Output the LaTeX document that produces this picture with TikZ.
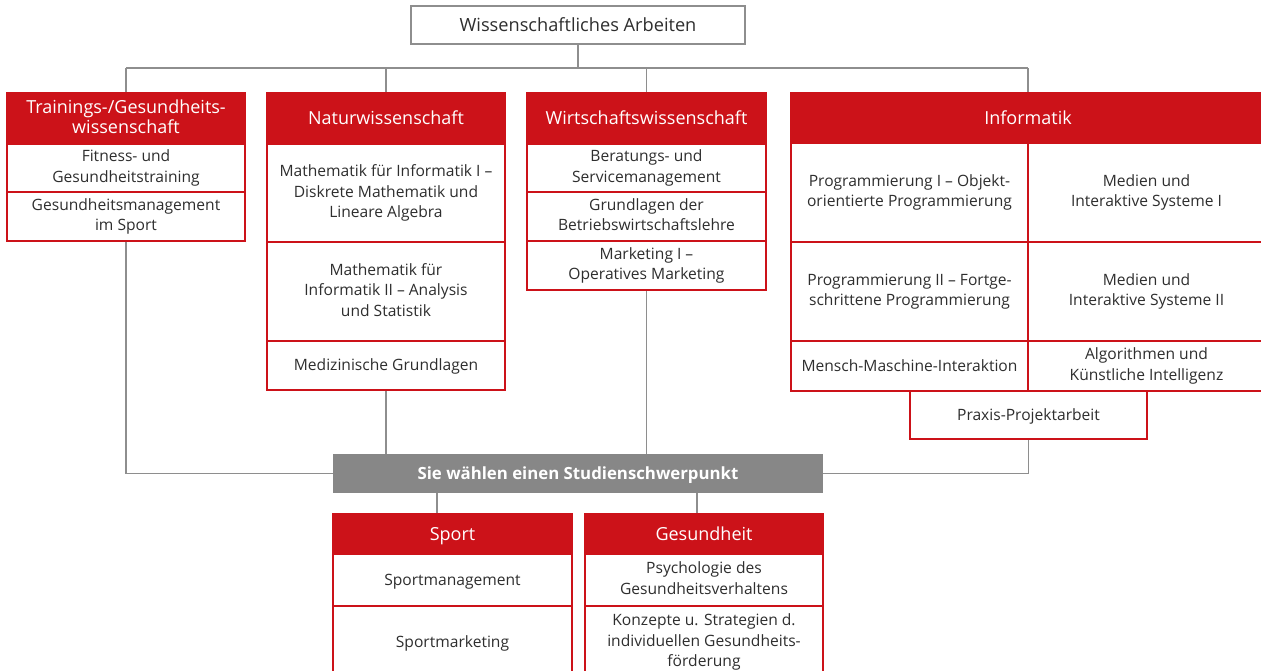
\documentclass[tikz,border=0pt]{standalone}
\usepackage{fontspec}
\setmainfont{Open Sans}
\definecolor{hsred}{HTML}{CC1219}
\definecolor{hsgray}{HTML}{878787}
\definecolor{linegray}{HTML}{8E8E8E}
\definecolor{txt}{HTML}{2E2E2E}
\newcommand{\itemfnt}{\fontsize{15.6}{20.5}\selectfont}
\newcommand{\hdrfnt}{\fontsize{18}{20}\selectfont}
\begin{document}
\begin{tikzpicture}[x=1pt,y=-1pt,
  wh/.style 2 args={minimum width=#1pt, minimum height=#2pt},
  cell/.style={rectangle, inner sep=0pt, align=center, text=txt, font=\itemfnt,
    fill=white, draw=hsred, line width=2pt,
    execute at begin node={\vphantom{Ág}}, execute at end node={\vphantom{Ág}}},
  hdr/.style={cell, fill=hsred, text=white, font=\hdrfnt},
  conn/.style={draw=linegray, line width=1.3pt}]
\clip (0,0) rectangle (1261,671);
\fill[white] (0,0) rectangle (1261,671);

% top
\node[rectangle, inner sep=0pt, draw=linegray, line width=2pt, fill=white, text=txt,
  font=\fontsize{18.2}{20}\selectfont, wh={334}{38}] (top) at (578,25) {\vphantom{Ág}Wissenschaftliches Arbeiten};

% Trainings
\node[hdr, wh={238}{51}] (Th) at (126,118.5) {Trainings-/Gesundheits-\\wissenschaft};
\node[cell, wh={238}{48}] (T1) at (126,168) {Fitness- und\\Gesundheitstraining};
\node[cell, wh={238}{49}] (T2) at (126,216.5) {Gesundheitsmanagement\\im Sport};

% Natur
\node[hdr, wh={238}{51}] (Nh) at (386,118.5) {Naturwissenschaft};
\node[cell, wh={238}{98}] (N1) at (386,193) {Mathematik für Informatik I –\\Diskrete Mathematik und\\Lineare Algebra};
\node[cell, wh={238}{99}] (N2) at (386,291.5) {Mathematik für\\Informatik II – Analysis\\und Statistik};
\node[cell, wh={238}{49}] (N3) at (386,365.5) {Medizinische Grundlagen};

% Wirtschaft
\node[hdr, wh={239}{51}] (Wh) at (646.5,118.5) {Wirtschaftswissenschaft};
\node[cell, wh={239}{48}] (W1) at (646.5,168) {Beratungs- und\\Servicemanagement};
\node[cell, wh={239}{49}] (W2) at (646.5,216.5) {Grundlagen der\\Betriebswirtschaftslehre};
\node[cell, wh={239}{49}] (W3) at (646.5,265.5) {Marketing I –\\Operatives Marketing};

% Informatik
\node[hdr, wh={474}{50}] (Ih) at (1028,118) {Informatik};
\node[cell, wh={237}{99}] (I11) at (909.5,192.5) {Programmierung I – Objekt-\\orientierte Programmierung};
\node[cell, wh={237}{99}] (I12) at (1146.5,192.5) {Medien und\\Interaktive Systeme I};
\node[cell, wh={237}{99}] (I21) at (909.5,291.5) {Programmierung II – Fortge-\\schrittene Programmierung};
\node[cell, wh={237}{99}] (I22) at (1146.5,291.5) {Medien und\\Interaktive Systeme II};
\node[cell, wh={237}{50}] (I31) at (909.5,366) {Mensch-Maschine-Interaktion};
\node[cell, wh={237}{50}] (I32) at (1146.5,366) {Algorithmen und\\Künstliche Intelligenz};
\node[cell, wh={237}{48}] (Pr) at (1028.5,415) {Praxis-Projektarbeit};

% Schwerpunkt
\node[rectangle, inner sep=0pt, fill=hsgray, text=white,
  font=\fontsize{16.8}{18}\selectfont\bfseries, wh={490}{39}] (gray) at (578,473.5) {\vphantom{Ág}Sie wählen einen Studienschwerpunkt};

% Sport
\node[hdr, wh={239}{40}] (Sh) at (452.5,534) {Sport};
\node[cell, wh={239}{52}] (S1) at (452.5,580) {Sportmanagement};
\node[cell, wh={239}{72}] (S2) at (452.5,642) {Sportmarketing};

% Gesundheit
\node[hdr, wh={238}{40}] (Gh) at (704,534) {Gesundheit};
\node[cell, wh={238}{52}] (G1) at (704,580) {Psychologie des\\Gesundheitsverhaltens};
\node[cell, wh={238}{72}] (G2) at (704,642) {Konzepte u. Strategien d.\\individuellen Gesundheits-\\förderung};

% connectors
\coordinate (sp) at (578,68);
\draw[conn] (top.south) -- (top.south |- sp);
\draw[conn] (Th.north |- sp) -- (Ih.north |- sp);
\draw[conn] (Th.north) -- (Th.north |- sp);
\draw[conn] (Nh.north) -- (Nh.north |- sp);
\draw[conn] (Wh.north) -- (Wh.north |- sp);
\draw[conn] (Ih.north) -- (Ih.north |- sp);
\draw[conn] (T2.south) |- (gray.west);
\draw[conn] (N3.south) -- (N3.south |- gray.north);
\draw[conn] (W3.south) -- (W3.south |- gray.north);
\draw[conn] (Pr.south) |- (gray.east);
\coordinate (sL) at ([xshift=-15.5pt]Sh.north);
\coordinate (gL) at ([xshift=-7pt]Gh.north);
\draw[conn] (sL) -- (sL |- gray.south);
\draw[conn] (gL) -- (gL |- gray.south);
\end{tikzpicture}
\end{document}
